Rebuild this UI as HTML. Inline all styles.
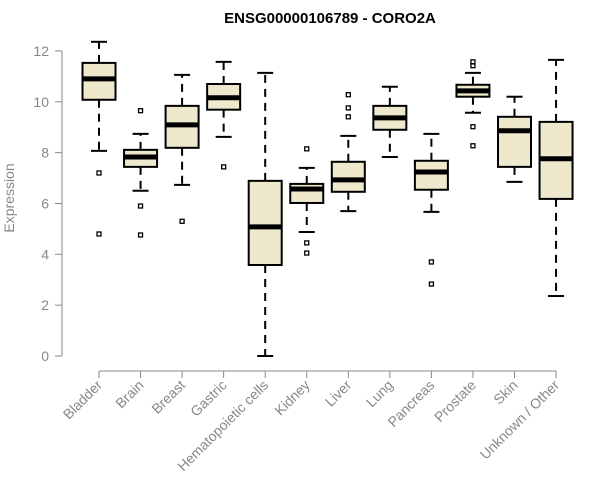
<!DOCTYPE html>
<html><head><meta charset="utf-8"><style>body{margin:0;background:#fff}svg{display:block}</style></head>
<body>
<svg id="c" width="600" height="500" xmlns="http://www.w3.org/2000/svg" font-family="'Liberation Sans', sans-serif">
<text x="330" y="23" text-anchor="middle" font-size="15" font-weight="bold">ENSG00000106789 - CORO2A</text>
<text transform="translate(14,198) rotate(-90)" text-anchor="middle" font-size="14" fill="#888">Expression</text>
<g id="axes"></g><g id="plot"></g>
</svg>
<script>
const categories=["Bladder","Brain","Breast","Gastric","Hematopoietic cells","Kidney","Liver","Lung","Pancreas","Prostate","Skin","Unknown / Other"];
const whiskerLow=[8.07,6.5,6.73,8.62,0,4.88,5.7,7.83,5.67,9.57,6.85,2.36];
const q1=[10.08,7.44,8.19,9.69,3.58,6.02,6.46,8.9,6.54,10.2,7.44,6.18];
const median=[10.9,7.83,9.09,10.16,5.08,6.57,6.93,9.37,7.24,10.43,8.86,7.76];
const q3=[11.53,8.11,9.84,10.7,6.89,6.77,7.64,9.84,7.68,10.67,9.41,9.21];
const whiskerHigh=[12.36,8.74,11.06,11.57,11.14,7.4,8.66,10.59,8.74,11.14,10.2,11.65];
const outliers=[[7.2,4.8],[9.65,5.9,4.76],[5.3],[7.44],[],[8.15,4.45,4.05],[10.28,9.76,9.41],[],[3.7,2.83],[11.57,11.42,9.02,8.27],[],[]];
const yTicks=[0,2,4,6,8,10,12];
const NS="http://www.w3.org/2000/svg";
const y=v=>356-v*25.42;
const x=i=>99+i*41.55;
const ax=document.getElementById('axes'),pl=document.getElementById('plot');
function mk(p,t,a){const e=document.createElementNS(NS,t);for(const k in a)e.setAttribute(k,a[k]);p.appendChild(e);return e;}
const yl=mk(ax,'line',{x1:62,x2:62,y1:y(0),y2:y(12),stroke:'#888'});


yTicks.forEach(t=>{
 const tk=mk(ax,'line',{x1:55,x2:62,y1:y(t),y2:y(t),stroke:'#888'});
 
 
 const tx=mk(ax,'text',{x:49,y:y(t)+5,'text-anchor':'end','font-size':14,fill:'#888'});
 tx.textContent=t;
 
 
});
const xl=mk(ax,'line',{x1:x(0),x2:x(11),y1:371,y2:371,stroke:'#888'});


categories.forEach((c,i)=>{
 const cx=x(i);
 const tk=mk(ax,'line',{x1:cx,x2:cx,y1:371,y2:378,stroke:'#888'});
 
 
 const tx=mk(ax,'text',{x:cx+4,y:386,'text-anchor':'end','font-size':14,fill:'#888',transform:`rotate(-45 ${cx+4} 386)`});
 tx.textContent=c;
 
 
 const g=mk(pl,'g',{});
 
 
 mk(g,'line',{x1:cx,x2:cx,y1:y(q3[i]),y2:y(whiskerHigh[i]),stroke:'#000','stroke-width':2,'stroke-dasharray':'8,6'});
 mk(g,'line',{x1:cx,x2:cx,y1:y(q1[i]),y2:y(whiskerLow[i]),stroke:'#000','stroke-width':2,'stroke-dasharray':'8,6'});
 mk(g,'line',{x1:cx-8,x2:cx+8,y1:y(whiskerHigh[i]),y2:y(whiskerHigh[i]),stroke:'#000','stroke-width':2});
 mk(g,'line',{x1:cx-8,x2:cx+8,y1:y(whiskerLow[i]),y2:y(whiskerLow[i]),stroke:'#000','stroke-width':2});
 mk(g,'rect',{x:cx-16.5,y:y(q3[i]),width:33,height:y(q1[i])-y(q3[i]),fill:'#EEE8CD',stroke:'#000','stroke-width':2});
 mk(g,'line',{x1:cx-16.5,x2:cx+16.5,y1:y(median[i]),y2:y(median[i]),stroke:'#000','stroke-width':5});
 outliers[i].forEach(o=>{
  const p=mk(g,'rect',{x:cx-2,y:y(o)-2,width:4,height:4,fill:'none',stroke:'#000','stroke-width':1.3});
  
  
 });
});
</script>
</body></html>
